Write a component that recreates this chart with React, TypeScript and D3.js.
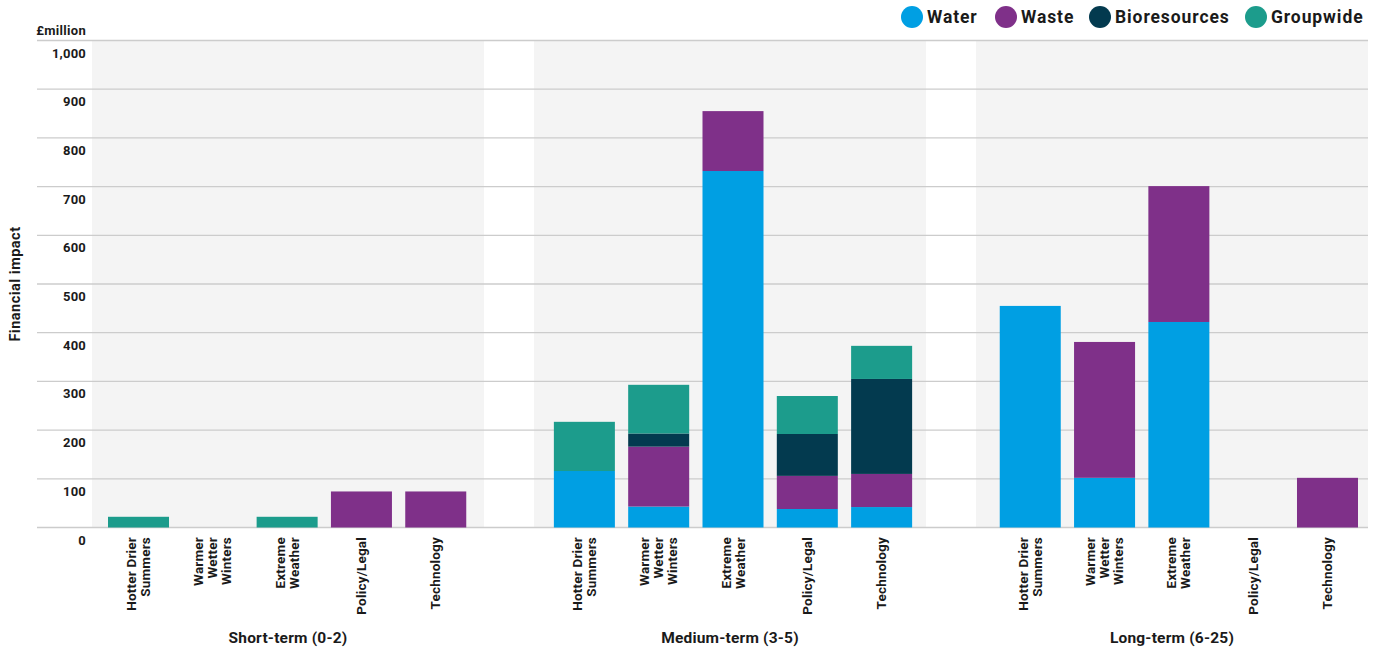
import { useMemo } from "react";
import * as d3 from "d3";

const WIDTH = 1380;
const HEIGHT = 649;
const FONT = "Roboto, 'DejaVu Sans', sans-serif";

const horizons = ["Short-term (0-2)", "Medium-term (3-5)", "Long-term (6-25)"];
const risks = ["Hotter Drier Summers", "Warmer Wetter Winters", "Extreme Weather", "Policy/Legal", "Technology"];
const riskLines: { [k: string]: string[] } = {
  "Hotter Drier Summers": ["Hotter Drier", "Summers"],
  "Warmer Wetter Winters": ["Warmer", "Wetter", "Winters"],
  "Extreme Weather": ["Extreme", "Weather"],
  "Policy/Legal": ["Policy/Legal"],
  Technology: ["Technology"],
};

const seriesNames = ["Water", "Waste", "Bioresources", "Groupwide"];
const seriesColors = ["#009fe3", "#7f3089", "#033a4f", "#1c9c8c"];

// 15 values each: short-term x5, medium-term x5, long-term x5
const water = [0, 0, 0, 0, 0, 116, 43, 732, 38, 42, 455, 102, 422, 0, 0];
const waste = [0, 0, 0, 74, 74, 0, 123, 123, 68, 68, 0, 279, 279, 0, 102];
const bioresources = [0, 0, 0, 0, 0, 0, 27, 0, 86, 195, 0, 0, 0, 0, 0];
const groupwide = [22, 0, 22, 0, 0, 101, 100, 0, 78, 68, 0, 0, 0, 0, 0];

const yTicks = [0, 100, 200, 300, 400, 500, 600, 700, 800, 900, 1000];

export default function App() {
  const rows = useMemo(() => {
    const out: any[] = [];
    horizons.forEach((h, hi) =>
      risks.forEach((r, ri) => {
        const i = hi * 5 + ri;
        out.push({
          key: `${hi}-${ri}`,
          horizon: h,
          risk: r,
          Water: water[i],
          Waste: waste[i],
          Bioresources: bioresources[i],
          Groupwide: groupwide[i],
        });
      })
    );
    return out;
  }, []);

  // slots: 5 bars, gap, 5 bars, gap, 5 bars
  const slots: string[] = [];
  horizons.forEach((_, hi) => {
    risks.forEach((_, ri) => slots.push(`${hi}-${ri}`));
    if (hi < horizons.length - 1) slots.push(`gap${hi}`);
  });

  const x = d3.scaleBand().domain(slots).range([108, 1358]).paddingInner(0.179).paddingOuter(0);
  const panelX = d3.scaleBand().domain(horizons).range([92, 1368]).paddingInner(50 / 442);
  const y = d3.scaleLinear().domain([0, 1000]).range([527.5, 40.5]);

  const stacked = d3.stack().keys(seriesNames)(rows as any);

  const legendX = [901, 995, 1089, 1245];

  return (
    <svg
      width={WIDTH}
      height={HEIGHT}
      style={{ position: "absolute", left: 0, top: 0, display: "block", background: "#fff" }}
      fontFamily={FONT}
    >
      {horizons.map((h) => (
        <rect key={h} x={panelX(h)} y={y(1000)} width={panelX.bandwidth()} height={y(0) - y(1000)} fill="#f4f4f4" />
      ))}
      {yTicks.map((t) => (
        <g key={t}>
          <line x1={37} x2={1368} y1={y(t)} y2={y(t)} stroke="#cccccc" strokeWidth={1.3} />
          <text x={86} y={y(t) + 12.5} textAnchor="end" dominantBaseline="central" fontSize={13} fontWeight={700} fill="#1a1a1a" letterSpacing={0.2}>
            {d3.format(",")(t)}
          </text>
        </g>
      ))}
      <text x={86} y={30} textAnchor="end" dominantBaseline="central" fontSize={13} fontWeight={700} fill="#1a1a1a" letterSpacing={0.3}>
        £million
      </text>
      <text
        transform={`translate(15,${(y(0) + y(1000)) / 2}) rotate(-90)`}
        textAnchor="middle"
        dominantBaseline="central"
        fontSize={14.5}
        fontWeight={700}
        fill="#1a1a1a"
        letterSpacing={0.5}
      >
        Financial impact
      </text>

      {stacked.map((layer, si) => (
        <g key={seriesNames[si]} fill={seriesColors[si]}>
          {layer.map((d: any) => {
            const h = y(d[0]) - y(d[1]);
            if (h <= 0) return null;
            return <rect key={d.data.key} x={x(d.data.key)} width={x.bandwidth()} y={y(d[1])} height={h} />;
          })}
        </g>
      ))}

      {rows.map((r) => {
        const cx = (x(r.key) as number) + x.bandwidth() / 2;
        const lines = riskLines[r.risk];
        const lh = 14;
        return (
          <text
            key={r.key}
            transform={`translate(${cx},537) rotate(-90)`}
            textAnchor="end"
            fontSize={13.5}
            fontWeight={700}
            fill="#1a1a1a"
            letterSpacing={0.2}
          >
            {lines.map((l, li) => (
              <tspan key={li} x={0} y={(li - (lines.length - 1) / 2) * lh + 4.5}>
                {l}
              </tspan>
            ))}
          </text>
        );
      })}

      {horizons.map((h) => (
        <text
          key={h}
          x={(panelX(h) as number) + panelX.bandwidth() / 2}
          y={638}
          textAnchor="middle"
          dominantBaseline="central"
          fontSize={15.5}
          fontWeight={700}
          fill="#1a1a1a"
          letterSpacing={0.2}
        >
          {h}
        </text>
      ))}

      {seriesNames.map((s, i) => (
        <g key={s} transform={`translate(${legendX[i]},17)`}>
          <circle cx={11} cy={0} r={11} fill={seriesColors[i]} />
          <text x={26} y={0} dominantBaseline="central" fontSize={17.5} fontWeight={700} fill="#1a1a1a" letterSpacing={0.9}>
            {s}
          </text>
        </g>
      ))}
    </svg>
  );
}
